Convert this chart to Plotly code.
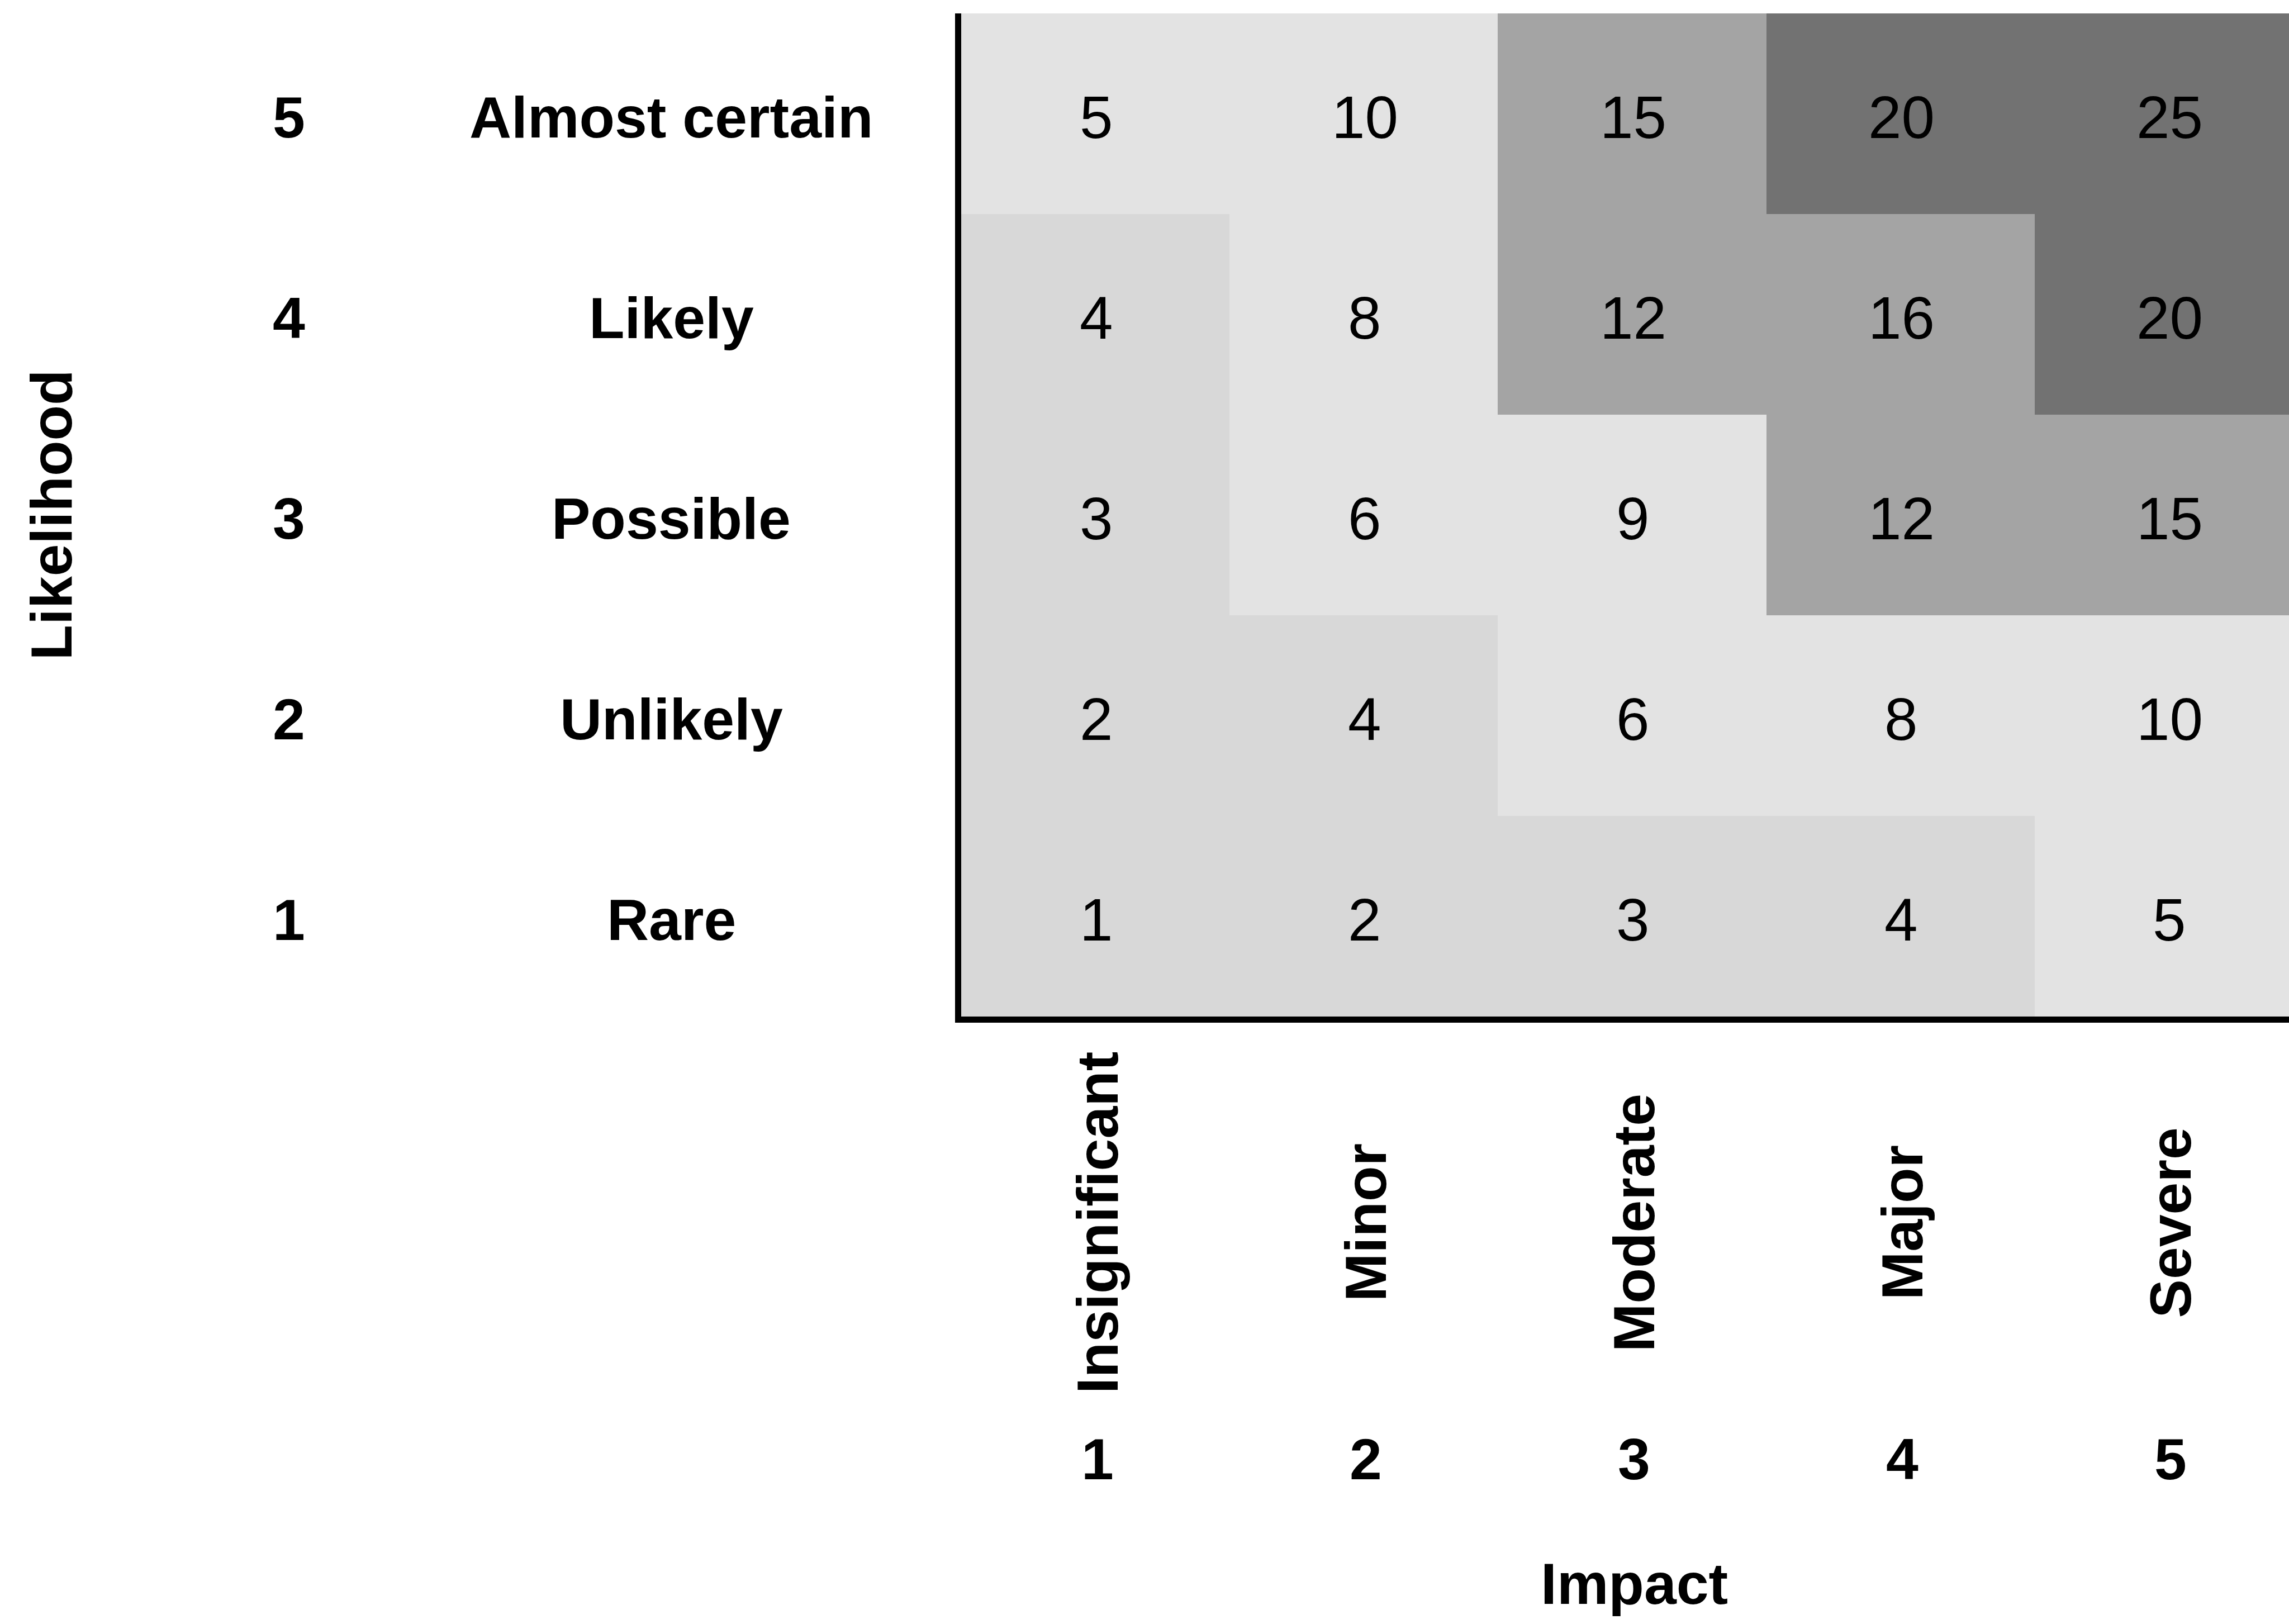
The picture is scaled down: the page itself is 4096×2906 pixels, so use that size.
import plotly.graph_objects as go

# ---- data -------------------------------------------------------------
impact_levels = [1, 2, 3, 4, 5]
impact_names = ["Insignificant", "Minor", "Moderate", "Major", "Severe"]

likelihood_levels = [1, 2, 3, 4, 5]
likelihood_names = ["Rare", "Unlikely", "Possible", "Likely", "Almost certain"]

# risk score of each cell; rows = likelihood 1..5 (bottom to top), cols = impact 1..5
risk_scores = [
    [1, 2, 3, 4, 5],
    [2, 4, 6, 8, 10],
    [3, 6, 9, 12, 15],
    [4, 8, 12, 16, 20],
    [5, 10, 15, 20, 25],
]

# shading band of each cell: 0 = low, 1 = medium-low, 2 = medium-high, 3 = high
risk_bands = [
    [0, 0, 0, 0, 1],
    [0, 0, 1, 1, 1],
    [0, 1, 1, 2, 2],
    [0, 1, 2, 2, 3],
    [1, 1, 2, 3, 3],
]
band_colors = ["#d8d8d8", "#e3e3e3", "#a4a4a4", "#727272"]

# ---- geometry (pixels) ------------------------------------------------
W, H = 4096, 2906
plot_left, plot_top, plot_bottom = 1720, 24, 1819
col_w = 480.1
plot_h = plot_bottom - plot_top
plot_w = W - plot_left


def px_x(px):
    return (px - plot_left) / plot_w


def px_y(py):
    return (plot_bottom - py) / plot_h


FONT = "Liberation Sans, Arial, sans-serif"
LABEL_SIZE = 104
CELL_SIZE = 107
ROW_SHIFT = -6

fig = go.Figure()

n = len(band_colors) - 1
colorscale = [[i / n, c] for i, c in enumerate(band_colors)]

fig.add_trace(go.Heatmap(
    x=impact_levels,
    y=likelihood_levels,
    z=risk_bands,
    zmin=0,
    zmax=n,
    colorscale=colorscale,
    showscale=False,
    xgap=0,
    ygap=0,
    hoverinfo="skip",
))

annotations = []
cell_font = dict(family=FONT, size=CELL_SIZE, color="black")
label_font = dict(family=FONT, size=LABEL_SIZE, color="black", weight="bold")

# score label in each cell
for r, lk in enumerate(likelihood_levels):
    for c, im in enumerate(impact_levels):
        annotations.append(dict(
            x=im, xref="x", xshift=2, y=lk, yref="y", yshift=ROW_SHIFT,
            text=str(risk_scores[r][c]), showarrow=False,
            xanchor="center", yanchor="middle", font=cell_font,
        ))

# likelihood level numbers and names
for lk, name in zip(likelihood_levels, likelihood_names):
    annotations.append(dict(
        x=px_x(517), xref="paper", y=lk, yref="y", yshift=ROW_SHIFT,
        text=str(lk), showarrow=False, xanchor="center", yanchor="middle",
        font=label_font,
    ))
    annotations.append(dict(
        x=px_x(1201), xref="paper", y=lk, yref="y", yshift=ROW_SHIFT,
        text=name, showarrow=False, xanchor="center", yanchor="middle",
        font=label_font,
    ))

# impact names (rotated) and level numbers
for im, name in zip(impact_levels, impact_names):
    annotations.append(dict(
        x=im, xref="x", xshift=4, y=px_y(2188), yref="paper",
        text=name, textangle=-90, showarrow=False,
        xanchor="center", yanchor="middle", font=label_font,
    ))
    annotations.append(dict(
        x=im, xref="x", xshift=4, y=px_y(2611), yref="paper",
        text=str(im), showarrow=False,
        xanchor="center", yanchor="middle", font=label_font,
    ))

# axis titles
annotations.append(dict(
    x=3, xref="x", xshift=4, y=px_y(2834), yref="paper",
    text="Impact", showarrow=False, xanchor="center", yanchor="middle",
    font=label_font,
))
annotations.append(dict(
    x=px_x(91), xref="paper", y=0.5, yref="paper",
    text="Likelihood", textangle=-90, showarrow=False,
    xanchor="center", yanchor="middle", font=label_font,
))

axis_common = dict(
    showline=True, linewidth=11, linecolor="black",
    showgrid=False, zeroline=False, showticklabels=False, ticks="",
    fixedrange=True,
)

fig.update_layout(
    width=W,
    height=H,
    margin=dict(l=plot_left, r=0, t=plot_top, b=H - plot_bottom, pad=0),
    paper_bgcolor="white",
    plot_bgcolor="white",
    showlegend=False,
    xaxis=dict(range=[0.5, 0.5 + plot_w / col_w], **axis_common),
    yaxis=dict(range=[0.5, 5.5], **axis_common),
    annotations=annotations,
)

fig.write_html("out.html")
